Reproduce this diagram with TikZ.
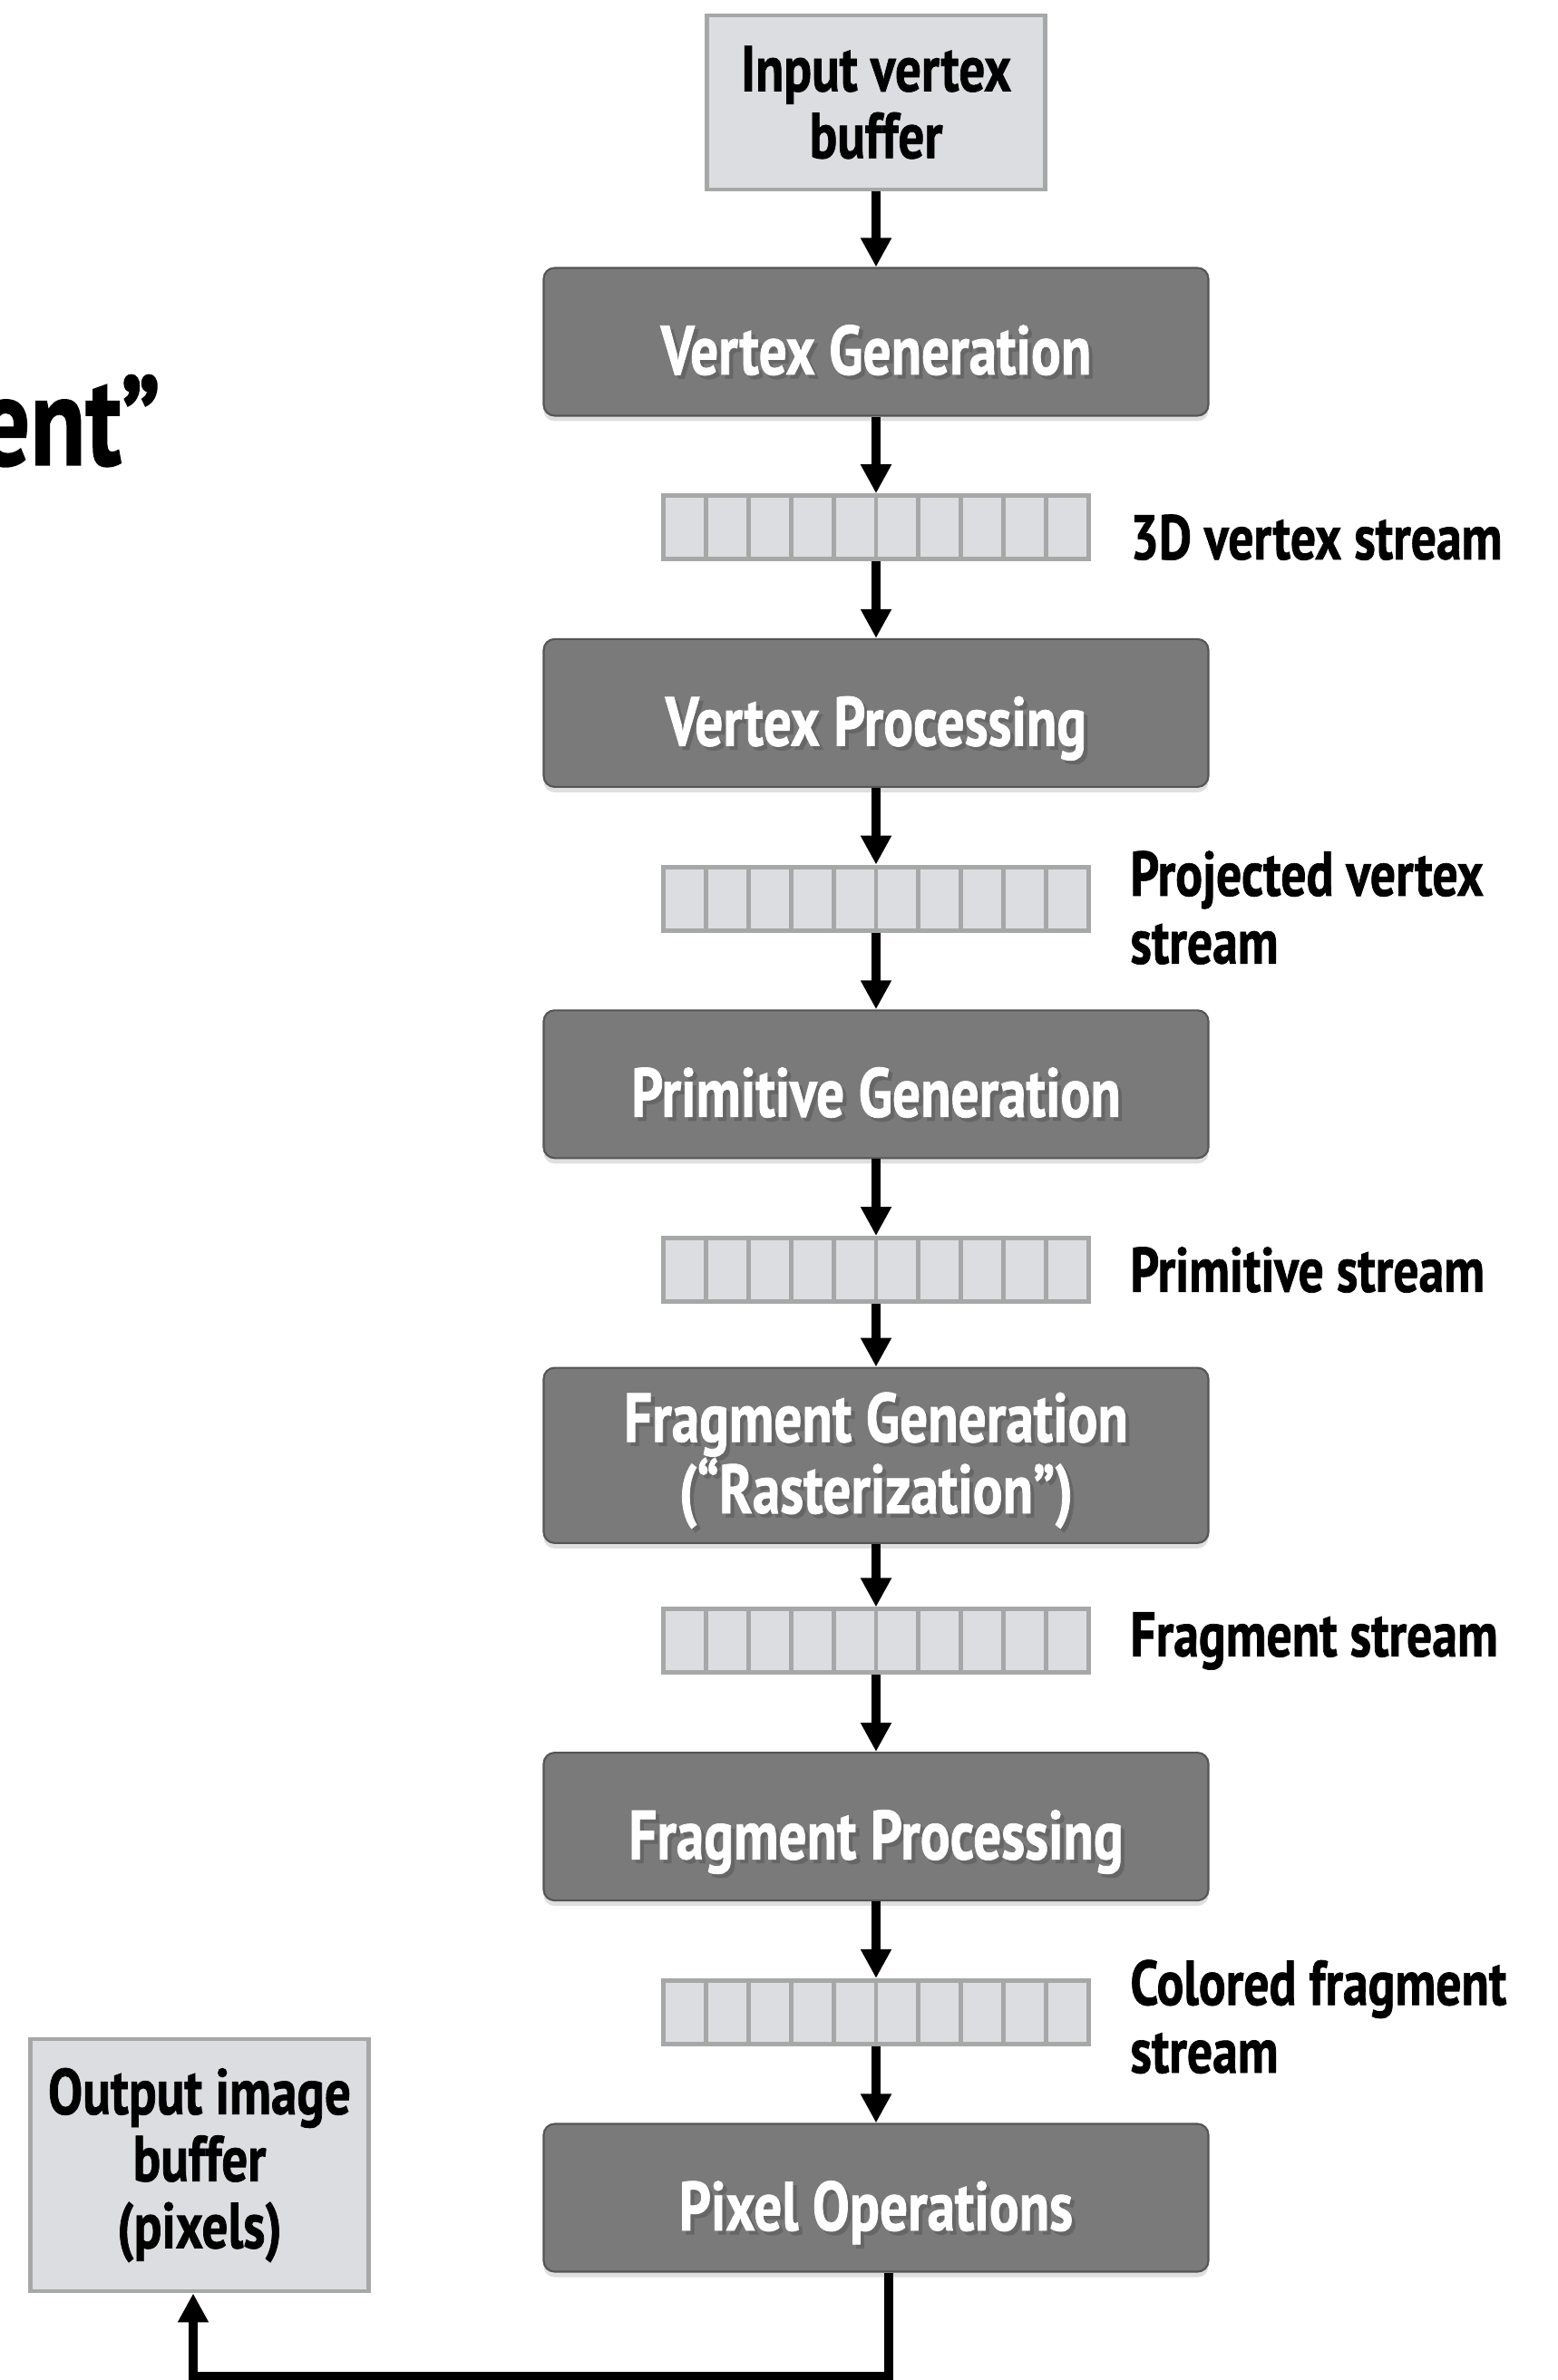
\documentclass[tikz,border=0pt]{standalone}
\usepackage{fontspec}
\setmainfont{PT Sans}[FakeStretch=0.8, FakeBold=1]
\usetikzlibrary{shapes.geometric, arrows, arrows.meta, shadows, calc}
\definecolor{stagegray}{RGB}{122,122,122}
\definecolor{stageedge}{RGB}{85,85,85}
\definecolor{cellgray}{RGB}{220,221,224}
\definecolor{celledge}{RGB}{166,168,167}
\newcommand{\shtext}[1]{\leavevmode\rlap{\kern1.2pt\raisebox{-1.2pt}{\color{black!60}#1}}#1}
\newcommand{\tightlines}{\lineskiplimit=-20pt\relax}
\tikzstyle{stagebox} = [rectangle, rounded corners=0.12cm, minimum width=7.33cm, minimum height=1.63cm, text centered, align=center, draw=stageedge, line width=0.6pt, fill=stagegray, text=white, font=\bfseries\fontsize{21.8}{22.4}\selectfont\tightlines, drop shadow={shadow xshift=0pt, shadow yshift=-0.06cm, opacity=0.25}]
\tikzstyle{stage} = [stagebox, text height=0.72cm, text depth=0cm]
\tikzstyle{buffer} = [rectangle, minimum width=3.73cm, text centered, align=center, draw=celledge, line width=1.4pt, fill=cellgray, font=\bfseries\fontsize{20.3}{21}\selectfont\tightlines]
\tikzstyle{stream} = [rectangle, minimum width=4.69cm, minimum height=0.70cm, draw=celledge, line width=1.4pt, fill=cellgray, path picture={\foreach \i in {1,...,9} \draw[celledge, line width=1.4pt] ($(path picture bounding box.north west)!\i/10!(path picture bounding box.north east)$) -- ($(path picture bounding box.south west)!\i/10!(path picture bounding box.south east)$);}]
\tikzstyle{streamlabel} = [align=left, font=\bfseries\fontsize{19.8}{21.3}\selectfont\tightlines]
\tikzstyle{arrow} = [line width=2.8pt, -{Triangle[length=0.32cm, width=0.32cm]}]
\begin{document}
\begin{tikzpicture}[node distance=2.047cm]
\useasboundingbox (0,0) rectangle (17.17,-26.25);
\node (title) [anchor=base east, inner sep=0pt, font=\bfseries\fontsize{40}{40}\selectfont] at (1.78,-5.13) {ent”};

\node (input) [buffer, minimum height=1.92cm] at (9.66,-1.13) {Input vertex\\buffer};
\node (vg) [stage, below of=input, yshift=-0.593cm] {\shtext{Vertex Generation}};
\node (s1) [stream, below of=vg] {};
\node (vp) [stage, below of=s1] {\shtext{Vertex Processing}};
\node (s2) [stream, below of=vp] {};
\node (pg) [stage, below of=s2] {\shtext{Primitive Generation}};
\node (s3) [stream, below of=pg] {};
\node (fg) [stagebox, below of=s3] {\rule{0pt}{0.70cm}\shtext{Fragment Generation}\\\shtext{(“Rasterization”)}};
\node (s4) [stream, below of=fg] {};
\node (fp) [stage, below of=s4] {\shtext{Fragment Processing}};
\node (s5) [stream, below of=fp] {};
\node (po) [stage, below of=s5] {\shtext{Pixel Operations}};
\node (out) [buffer, minimum height=2.78cm, left of=po, xshift=-5.413cm, yshift=0.36cm] {Output image\\buffer\\(pixels)};

\node (l1) [streamlabel, right of=s1, anchor=west, xshift=0.633cm, yshift=-0.11cm] {3D vertex stream};
\node (l2) [streamlabel, right of=s2, anchor=west, xshift=0.633cm, yshift=-0.1cm] {Projected vertex\\stream};
\node (l3) [streamlabel, right of=s3, anchor=west, xshift=0.633cm] {Primitive stream};
\node (l4) [streamlabel, right of=s4, anchor=west, xshift=0.633cm] {Fragment stream};
\node (l5) [streamlabel, right of=s5, anchor=west, xshift=0.633cm, yshift=-0.05cm] {Colored fragment\\stream};

\draw [arrow] (input) -- (vg);
\draw [arrow] (vg) -- (s1);
\draw [arrow] (s1) -- (vp);
\draw [arrow] (vp) -- (s2);
\draw [arrow] (s2) -- (pg);
\draw [arrow] (pg) -- (s3);
\draw [arrow] (s3) -- (fg);
\draw [arrow] (fg) -- (s4);
\draw [arrow] (s4) -- (fp);
\draw [arrow] (fp) -- (s5);
\draw [arrow] (s5) -- (po);
\draw [arrow] ([xshift=0.14cm]po.south) -- ++(0,-1.14) -| ([xshift=-0.07cm]out.south);
\end{tikzpicture}
\end{document}
